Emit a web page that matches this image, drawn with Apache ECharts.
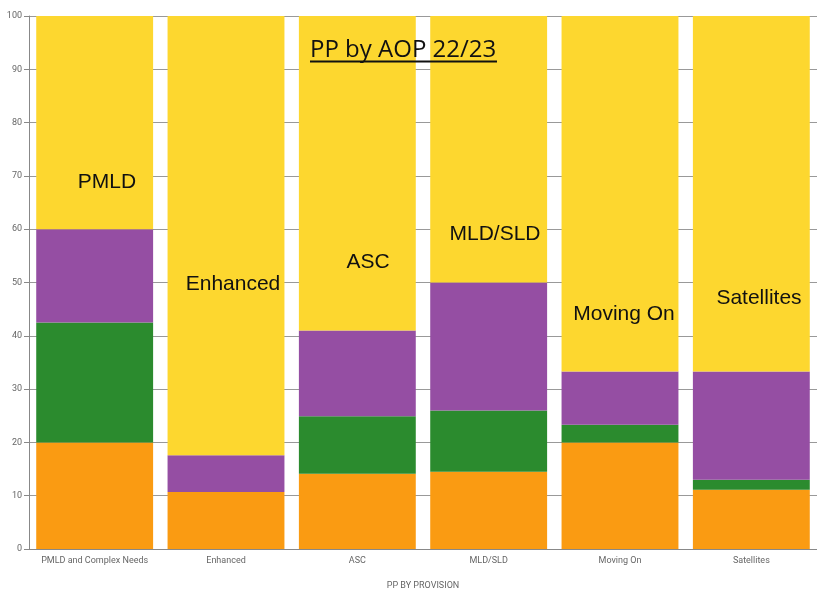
<!DOCTYPE html>
<html>
<head>
<meta charset="utf-8">
<title>PP by AOP 22/23</title>
<script src="https://cdn.jsdelivr.net/npm/echarts@6/dist/echarts.min.js"></script>
<style>
  html, body { margin: 0; padding: 0; background: #ffffff; }
  #chart { width: 817px; height: 595px; }
</style>
</head>
<body>
<div id="chart"></div>
<script>
// Provision categories along the x axis
const categories = ['PMLD and Complex Needs', 'Enhanced', 'ASC', 'MLD/SLD', 'Moving On', 'Satellites'];

// Stacked percentage segments, bottom to top
const orangeValues = [20.0, 10.7, 14.1, 14.5, 20.0, 11.1];
const greenValues  = [22.5, 0.0, 10.8, 11.5, 3.3, 1.9];
const purpleValues = [17.5, 6.9, 16.1, 24.0, 10.0, 20.3];
const yellowValues = [40.0, 82.4, 59.0, 50.0, 66.7, 66.7];

// Y axis tick range
const yTicks = { min: 0, max: 100, step: 10 };

// Labels written inside the bars
const barNotes = ['PMLD', 'Enhanced', 'ASC', 'MLD/SLD', 'Moving On', 'Satellites'];

const chart = echarts.init(document.getElementById('chart'), null, { renderer: 'canvas' });

const axisFont = { fontFamily: 'Roboto, sans-serif', fontSize: 9, color: '#666' };

function segment(name, values, color) {
  return {
    name: name,
    type: 'bar',
    stack: 'total',
    barCategoryGap: '11%',
    data: values,
    itemStyle: { color: color },
    emphasis: { disabled: true }
  };
}

// Pixel spots for the in-bar notes and the heading
const notePos = [[107, 182], [233, 284], [368, 262], [495, 234], [624, 314], [759, 298]];

const graphics = barNotes.map((t, i) => ({
  type: 'text',
  x: notePos[i][0],
  y: notePos[i][1],
  z: 100,
  style: {
    text: t,
    fill: '#111',
    font: '21px "Liberation Sans", Arial, sans-serif',
    textAlign: 'center',
    textVerticalAlign: 'middle'
  }
}));

graphics.push({
  type: 'text',
  x: 310,
  y: 50,
  z: 100,
  style: {
    text: 'PP by AOP 22/23',
    fill: '#111',
    font: '24px "Open Sans", "Noto Sans", sans-serif',
    textAlign: 'left',
    textVerticalAlign: 'middle'
  }
});
graphics.push({
  type: 'rect',
  z: 100,
  shape: { x: 310, y: 60.5, width: 187, height: 2 },
  style: { fill: '#111' }
});

chart.setOption({
  animation: false,
  grid: { left: 29, right: -1, top: 16, bottom: 44, containLabel: false },
  xAxis: {
    type: 'category',
    data: categories,
    name: 'PP BY PROVISION',
    nameLocation: 'middle',
    nameGap: 32,
    nameTextStyle: axisFont,
    axisLine: { show: true, lineStyle: { color: '#888', width: 1 } },
    axisTick: { show: false },
    axisLabel: Object.assign({ margin: 7, interval: 0 }, axisFont)
  },
  yAxis: {
    type: 'value',
    min: yTicks.min,
    max: yTicks.max,
    interval: yTicks.step,
    axisLine: { show: true, lineStyle: { color: '#888', width: 1 } },
    axisTick: { show: true, length: 5, lineStyle: { color: '#888' } },
    axisLabel: Object.assign({ margin: 7 }, axisFont),
    splitLine: { show: true, lineStyle: { color: '#999', width: 1 } }
  },
  series: [
    segment('Orange', orangeValues, '#FA9B12'),
    segment('Green', greenValues, '#2B8B2E'),
    segment('Purple', purpleValues, '#954EA3'),
    segment('Yellow', yellowValues, '#FDD72F')
  ],
  graphic: graphics
});
</script>
</body>
</html>
